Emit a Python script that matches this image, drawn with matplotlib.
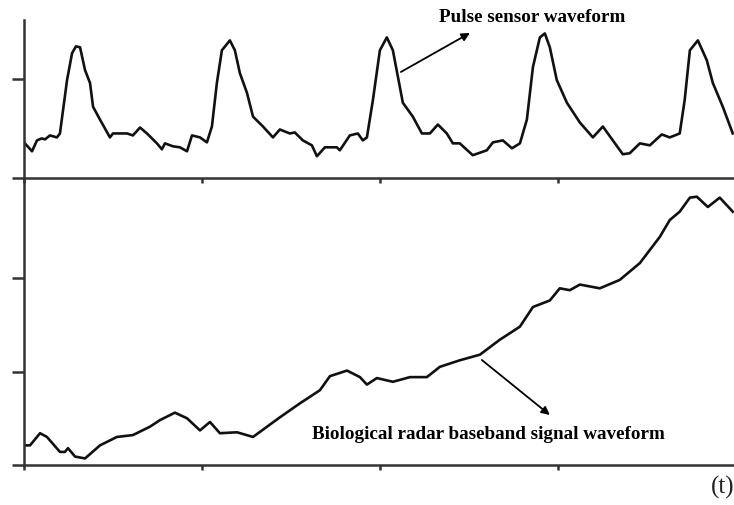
import matplotlib.pyplot as plt
import numpy as np

# pulse sensor waveform (time in s, amplitude a.u.)
pulse_t = [0.00, 0.045, 0.073, 0.10, 0.118, 0.146, 0.185, 0.202, 0.242, 0.27,
           0.292, 0.315, 0.343, 0.371, 0.388, 0.427, 0.483, 0.50, 0.579, 0.612,
           0.652, 0.691, 0.747, 0.775, 0.792, 0.837, 0.876, 0.916, 0.944, 0.989,
           1.028, 1.056, 1.084, 1.112, 1.157, 1.185, 1.213, 1.253, 1.287, 1.343,
           1.399, 1.438, 1.494, 1.522, 1.567, 1.618, 1.646, 1.691, 1.758, 1.775,
           1.831, 1.876, 1.904, 1.927, 1.961, 2.00, 2.039, 2.073, 2.129, 2.185,
           2.236, 2.281, 2.326, 2.376, 2.410, 2.449, 2.522, 2.601, 2.635, 2.691,
           2.742, 2.787, 2.826, 2.860, 2.899, 2.927, 2.955, 2.994, 3.051, 3.124,
           3.197, 3.253, 3.309, 3.365, 3.404, 3.461, 3.517, 3.584, 3.629, 3.685,
           3.713, 3.742, 3.787, 3.837, 3.871, 3.927, 3.983]
pulse_v = [0.36, 0.27, 0.38, 0.40, 0.39, 0.43, 0.41, 0.45, 0.99, 1.26,
           1.33, 1.32, 1.09, 0.96, 0.72, 0.59, 0.41, 0.45, 0.45, 0.43,
           0.51, 0.45, 0.35, 0.29, 0.35, 0.32, 0.31, 0.27, 0.43, 0.41,
           0.36, 0.52, 0.96, 1.29, 1.39, 1.29, 1.06, 0.86, 0.62, 0.52,
           0.41, 0.49, 0.45, 0.46, 0.38, 0.33, 0.22, 0.31, 0.31, 0.28,
           0.43, 0.45, 0.38, 0.41, 0.79, 1.29, 1.42, 1.29, 0.76, 0.62,
           0.45, 0.45, 0.54, 0.45, 0.35, 0.35, 0.23, 0.28, 0.36, 0.38,
           0.30, 0.35, 0.59, 1.12, 1.42, 1.46, 1.32, 0.99, 0.76, 0.56,
           0.41, 0.52, 0.38, 0.24, 0.25, 0.35, 0.33, 0.44, 0.41, 0.45,
           0.79, 1.29, 1.39, 1.19, 0.96, 0.72, 0.45]

# biological radar baseband signal
radar_t = [0.00, 0.034, 0.09, 0.129, 0.202, 0.23, 0.247, 0.287, 0.343, 0.427,
           0.522, 0.612, 0.708, 0.764, 0.848, 0.916, 0.989, 1.045, 1.101, 1.197,
           1.287, 1.438, 1.551, 1.663, 1.719, 1.815, 1.888, 1.927, 1.983, 2.073,
           2.169, 2.264, 2.337, 2.449, 2.562, 2.674, 2.787, 2.860, 2.955, 3.011,
           3.067, 3.124, 3.236, 3.348, 3.461, 3.573, 3.629, 3.685, 3.742, 3.781,
           3.843, 3.910, 3.983]
radar_v = [0.21, 0.21, 0.34, 0.30, 0.14, 0.14, 0.18, 0.09, 0.07, 0.21,
           0.30, 0.32, 0.41, 0.48, 0.56, 0.50, 0.37, 0.46, 0.34, 0.35,
           0.30, 0.51, 0.66, 0.80, 0.95, 1.01, 0.94, 0.86, 0.93, 0.89,
           0.94, 0.94, 1.05, 1.12, 1.18, 1.34, 1.48, 1.69, 1.76, 1.89,
           1.87, 1.93, 1.89, 1.98, 2.16, 2.44, 2.62, 2.71, 2.86, 2.87,
           2.76, 2.86, 2.71]

W, H = 734, 505
spine_col = "#333333"
serif = ["Liberation Serif", "DejaVu Serif"]

fig = plt.figure(figsize=(W / 100, H / 100), dpi=100)
left = 24 / W
ax1 = fig.add_axes([left, (H - 178) / H, 1 - left, (178 - 20) / H])
ax2 = fig.add_axes([left, (H - 465) / H, 1 - left, (465 - 178) / H])

ax1.plot(pulse_t, pulse_v, color="#111111", lw=1.9, solid_joinstyle="round")
ax2.plot(radar_t, radar_v, color="#111111", lw=1.9, solid_joinstyle="round")

ax1.set_xlim(0, 3.99)
ax1.set_ylim(0, 1.596)
ax2.set_xlim(0, 3.99)
ax2.set_ylim(0, 3.07)

for ax in (ax1, ax2):
    ax.spines["right"].set_visible(False)
    ax.spines["top"].set_visible(False)
    for s in ("left", "bottom"):
        ax.spines[s].set_color(spine_col)
        ax.spines[s].set_linewidth(1.8)
    ax.tick_params(axis="both", direction="out", color=spine_col, width=1.8,
                   labelleft=False, labelbottom=False)
    ax.tick_params(axis="y", length=8.5)
    ax.tick_params(axis="x", length=3.5)
    ax.set_xticks([0, 1, 2, 3])
    ax.patch.set_alpha(0)

ax1.set_yticks([0, 1])
ax2.set_yticks([0, 1, 2])

ax1.annotate("", xy=(2.506, 1.465), xytext=(2.118, 1.071),
             arrowprops=dict(arrowstyle="-|>", color="black", lw=1.3,
                             mutation_scale=12, shrinkA=0, shrinkB=0))
ax1.text(2.854, 1.626, "Pulse sensor waveform", ha="center", va="center",
         fontsize=13.8, fontweight="bold", family=serif)

ax2.annotate("", xy=(2.955, 0.535), xytext=(2.573, 1.123),
             arrowprops=dict(arrowstyle="-|>", color="black", lw=1.3,
                             mutation_scale=12, shrinkA=0, shrinkB=0))
ax2.text(1.618, 0.321, "Biological radar baseband signal waveform", ha="left",
         va="center", fontsize=13.8, fontweight="bold", family=serif)

fig.text(734 / W, (H - 487) / H, "(t)", ha="right", va="center",
         fontsize=18, family=serif, color="#222222")

fig.savefig("out.png", dpi=100)
